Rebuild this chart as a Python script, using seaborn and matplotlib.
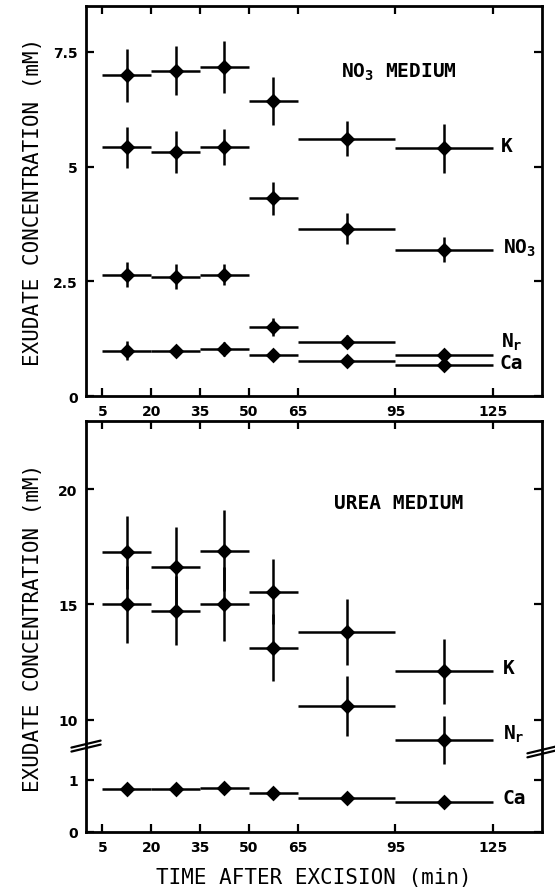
import numpy as np
import pandas as pd
import matplotlib
matplotlib.use("Agg")
import matplotlib.pyplot as plt
import seaborn as sns

# ---------------- data ----------------
# collection intervals (min after excision)
edges = [5, 20, 35, 50, 65, 95, 125]
ions_no3 = ["K", "NO3", "Nr", "Ca"]
ions_urea = ["K", "Nr", "Ca"]

# NO3 medium (mM)
no3_k = [6.99, 7.09, 7.17, 6.43, 5.61, 5.40]
no3_k_err = [0.58, 0.53, 0.56, 0.53, 0.38, 0.53]
no3_no3 = [5.42, 5.32, 5.43, 4.31, 3.65, 3.19]
no3_no3_err = [0.44, 0.45, 0.39, 0.36, 0.33, 0.27]
no3_nr = [2.64, 2.60, 2.64, 1.51, 1.18, 0.89]
no3_nr_err = [0.27, 0.27, 0.23, 0.20, 0.14, 0.07]
no3_ca = [0.99, 0.99, 1.02, 0.89, 0.77, 0.68]
no3_ca_err = [0.20, 0.08, 0.15, 0.07, 0.07, 0.07]

# urea medium (mM)
urea_k = [17.26, 16.64, 17.33, 15.56, 13.81, 12.10]
urea_k_err = [1.60, 1.70, 1.75, 1.40, 1.43, 1.40]
urea_nr = [15.00, 14.73, 15.01, 13.13, 10.61, 9.12]
urea_nr_err = [1.65, 1.50, 1.60, 1.45, 1.30, 1.05]
urea_ca = [0.83, 0.83, 0.85, 0.75, 0.65, 0.58]
urea_ca_err = [0.04, 0.04, 0.04, 0.04, 0.04, 0.04]

edges_a = np.array(edges, dtype=float)
mid = (edges_a[:-1] + edges_a[1:]) / 2
half = (edges_a[1:] - edges_a[:-1]) / 2


def to_long(names, vals, errs):
    rows = []
    for n, v, e in zip(names, vals, errs):
        rows.append(pd.DataFrame({"ion": n, "mid": mid, "half": half,
                                  "conc": v, "err": e}))
    return pd.concat(rows, ignore_index=True)


df_no3 = to_long(ions_no3, [no3_k, no3_no3, no3_nr, no3_ca],
                 [no3_k_err, no3_no3_err, no3_nr_err, no3_ca_err])
df_urea = to_long(ions_urea, [urea_k, urea_nr, urea_ca],
                  [urea_k_err, urea_nr_err, urea_ca_err])

# ---------------- style ----------------
sns.set_style("ticks")
plt.rcParams["font.family"] = ["DejaVu Sans"]
plt.rcParams["text.color"] = "black"
plt.rcParams["axes.labelcolor"] = "black"
mono = "DejaVu Sans Mono"

fig = plt.figure(figsize=(5.55, 8.95), dpi=100)
ax1 = fig.add_axes([0.155, 0.5564, 0.8216, 0.4358])
ax2 = fig.add_axes([0.155, 0.0693, 0.8216, 0.4592])


def draw(ax, df):
    for ion, g in df.groupby("ion", sort=False):
        ax.errorbar(g["mid"], g["conc"], xerr=g["half"], yerr=g["err"],
                    fmt="none", ecolor="black", elinewidth=1.8, capsize=0)
    sns.scatterplot(data=df, x="mid", y="conc", marker="D", color="black",
                    s=64, linewidth=0, ax=ax, legend=False, zorder=3)


# broken y scale for the urea panel (0-1.25 stretched, 8+ compressed)
brk_v = [-10, 0, 1.25, 8, 40]
brk_p = [-520, 0, 65, 66, 802]
ax2.set_yscale("function",
               functions=(lambda y: np.interp(y, brk_v, brk_p),
                          lambda p: np.interp(p, brk_p, brk_v)))

draw(ax1, df_no3)
draw(ax2, df_urea)

for ax in (ax1, ax2):
    ax.set_xlim(0, 140)
    ax.set_xticks(edges)
    ax.set_xticklabels([str(e) for e in edges], fontweight="bold", fontsize=10)
    ax.tick_params(direction="in", length=6, width=1.6, top=True, right=True,
                   pad=6, colors="black")
    for s in ax.spines.values():
        s.set_linewidth(2)
        s.set_color("black")
    ax.set_xlabel("")
    ax.set_ylabel("EXUDATE CONCENTRATION (mM)", family=mono, fontsize=15)
    ax.yaxis.set_label_coords(-0.095, 0.5)

ax1.set_ylim(0, 8.5)
ax1.set_yticks([0, 2.5, 5, 7.5])
ax1.set_yticklabels(["0", "2.5", "5", "7.5"], fontweight="bold", fontsize=10)

ax2.set_ylim(0, 22.96)
ax2.set_yticks([0, 1, 10, 15, 20])
ax2.set_yticklabels(["0", "1", "10", "15", "20"], fontweight="bold", fontsize=10)
ax2.set_xlabel("TIME AFTER EXCISION (min)", family=mono, fontsize=15, labelpad=9)

lab = dict(family=mono, fontsize=14, fontweight="bold", va="center")
ax1.text(96, 7.08, r"NO$_\mathregular{3}$ MEDIUM", ha="center", **lab)
ax1.text(127.5, 5.45, "K", ha="left", **lab)
ax1.text(128, 3.25, r"NO$_\mathregular{3}$", ha="left", **lab)
ax1.text(127.5, 1.2, r"N$_\mathregular{r}$", ha="left", **lab)
ax1.text(127, 0.74, "Ca", ha="left", **lab)

ax2.text(96, 19.43, "UREA MEDIUM", ha="center", **lab)
ax2.text(128, 12.26, "K", ha="left", **lab)
ax2.text(128, 9.43, r"N$_\mathregular{r}$", ha="left", **lab)
ax2.text(128, 0.67, "Ca", ha="left", **lab)

# break marks on the urea panel's spines
dx, dy, gap = 0.032, 0.0085, 0.0097
for xs, yc in ((0.0, 0.209), (1.0, 0.195)):
    for off in (-gap / 2, gap / 2):
        ax2.plot([xs - dx, xs + dx], [yc + off - dy, yc + off + dy],
                 transform=ax2.transAxes, color="black", lw=1.6,
                 clip_on=False, zorder=5)

fig.savefig("out.png", dpi=100)
